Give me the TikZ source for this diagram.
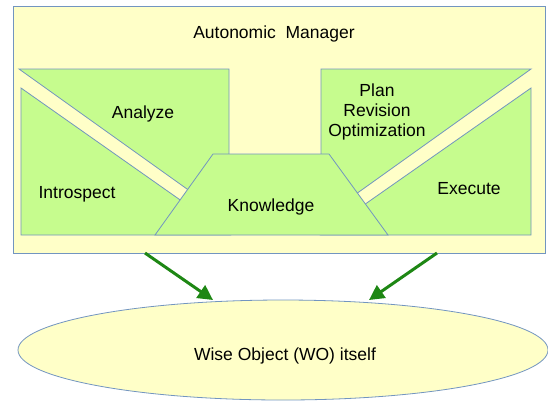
\documentclass[tikz,border=0pt]{standalone}
\usepackage{fontspec}
\setmainfont{Liberation Sans}
\usetikzlibrary{arrows.meta,shapes.geometric}
\definecolor{bgyel}{RGB}{255,255,200}
\definecolor{grn}{RGB}{198,252,142}
\definecolor{edge}{RGB}{114,149,192}
\definecolor{arr}{RGB}{30,135,20}
\tikzset{
  panel/.style={draw=edge, line width=0.8bp, fill=grn},
  lbl/.style={font=\fontsize{17.5bp}{20bp}\selectfont, inner sep=0pt, align=center},
  flow/.style={draw=arr, line width=3bp, -{Triangle[length=15bp,width=15bp]}}
}
\begin{document}
\begin{tikzpicture}[x=1bp,y=-1bp]
\useasboundingbox (0,0) rectangle (548,401);
% manager box
\node[draw=edge, line width=0.8bp, fill=bgyel, minimum width=532bp, minimum height=247bp, inner sep=0pt, anchor=north west] (mgr) at (13,6) {};
% panels
\draw[panel] (19,69) -- (229,69) -- (229,219) -- cycle;
\draw[panel] (21,88) -- (21,235) -- (230,235) -- cycle;
\draw[panel] (321,69) -- (531,69) -- (321,219) -- cycle;
\draw[panel] (531,88) -- (531,235) -- (321,235) -- cycle;
\draw[panel] (213,154) -- (329,154) -- (388,235) -- (155,235) -- cycle;
% labels
\node[lbl] (title) at (274,34) {Autonomic\ \ Manager};
\node[lbl] (analyze) at (143,114) {Analyze};
\node[lbl] (intro) at (77,194) {Introspect};
\node[lbl] (know) at (271,207) {Knowledge};
\node[lbl] (plan) at (377,112) {Plan\\Revision\\Optimization};
\node[lbl] (exec) at (469,189) {Execute};
% wise object
\node[draw=edge, line width=0.8bp, fill=bgyel, ellipse, minimum width=530bp, minimum height=100bp, inner sep=0pt] (wo) at (283,350) {};
\node[lbl] (wotext) at (285,356) {Wise Object (WO) itself};
% arrows
\coordinate (s1) at (145,253);
\coordinate (e1) at (213,300);
\coordinate (s2) at (437,253);
\coordinate (e2) at (369,300);
\draw[flow] (s1) -- (e1);
\draw[flow] (s2) -- (e2);
\end{tikzpicture}
\end{document}
